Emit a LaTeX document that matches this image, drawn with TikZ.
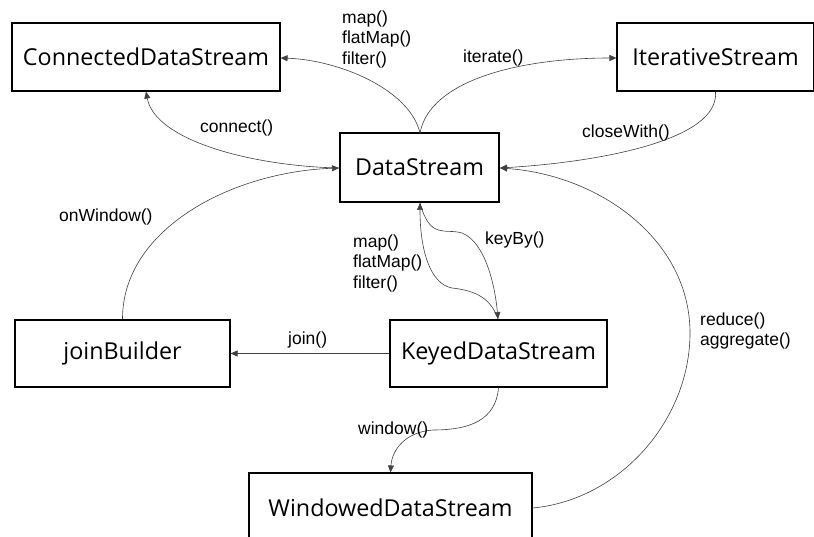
\documentclass[tikz,border=0pt]{standalone}
\usepackage{fontspec}
\setmainfont{Liberation Sans}
\newfontfamily\boxfont{Open Sans}
\usetikzlibrary{arrows.meta}
\tikzset{
  box/.style={draw=black, line width=1.1pt, fill=white, inner sep=0pt, font=\boxfont\fontsize{23.3}{28}\selectfont},
  mainbox/.style={box, line width=2.4pt},
  lbl/.style={inner sep=0pt, anchor=west, font=\fontsize{17.5}{20.5}\selectfont, text height=0.75em, text depth=0.25em},
  mlbl/.style={inner sep=0pt, anchor=west, align=left, font=\fontsize{17.5}{20.5}\selectfont},
  conn/.style={draw=black!75, line width=0.6pt, -{Triangle[length=7pt,width=6pt]}},
}
\begin{document}
\begin{tikzpicture}[x=1pt,y=-1pt]
\useasboundingbox (0,0) rectangle (814,537);
% boxes
\node[box, minimum width=268pt, minimum height=68pt] (cds) at (146,57) {ConnectedDataStream};
\node[box, minimum width=197pt, minimum height=68pt] (its) at (715.5,57) {IterativeStream};
\node[mainbox, minimum width=159pt, minimum height=69pt] (ds) at (419.5,167.5) {DataStream};
\node[box, minimum width=215pt, minimum height=67pt] (jb) at (122.5,353.5) {joinBuilder};
\node[box, minimum width=217pt, minimum height=67pt] (kds) at (498.5,353.5) {KeyedDataStream};
\node[box, minimum width=283pt, minimum height=70pt] (wds) at (390.5,508) {WindowedDataStream};
% coordinates
\coordinate (dsT) at (420,133);
\coordinate (dsB) at (420,203);
\coordinate (dsL) at (339,168);
\coordinate (dsR) at (500,168);
\coordinate (kT) at (498,319);
% connectors
\draw[conn] (dsT) .. controls (410,90) and (340,60) .. (cds.east |- 0,58);
\draw[conn] (dsT) .. controls (430,80) and (520,58) .. (its.west |- 0,58);
\draw[conn] (its.south) .. controls (720,140) and (600,162) .. (dsR);
\draw[conn] (dsL) .. controls (250,166) and (155,140) .. (cds.south);
\draw[conn] (jb.north) .. controls (122,230) and (230,172) .. (dsL);
\draw[conn] (dsB) .. controls (430,240) and (445,228) .. (462,233) .. controls (485,242) and (495,285) .. (kT);
\draw[conn] (kT) .. controls (490,295) and (470,290) .. (452,288) .. controls (430,284) and (420,250) .. (dsB);
\draw[conn] (kds.west) -- (jb.east);
\draw[conn] (kds.south) .. controls (496,420) and (470,430) .. (433,430) .. controls (405,432) and (392,450) .. (wds.north);
\draw[conn] (wds.east) .. controls (620,500) and (690,420) .. (690,333) .. controls (690,240) and (600,175) .. (dsR);
% labels
\node[mlbl] (lmap1) at (342,39) {map()\\flatMap()\\filter()};
\node[lbl] (literate) at (463,60) {iterate()};
\node[lbl] (lclose) at (582,135) {closeWith()};
\node[lbl] (lconnect) at (200,130) {connect()};
\node[lbl] (lonwin) at (59,219) {onWindow()};
\node[mlbl] (lmap2) at (353,263) {map()\\flatMap()\\filter()};
\node[lbl] (lkeyby) at (485,242) {keyBy()};
\node[lbl] (ljoin) at (288,342) {join()};
\node[lbl] (lwindow) at (358,432) {window()};
\node[mlbl] (lreduce) at (700,331) {reduce()\\aggregate()};
\end{tikzpicture}
\end{document}
